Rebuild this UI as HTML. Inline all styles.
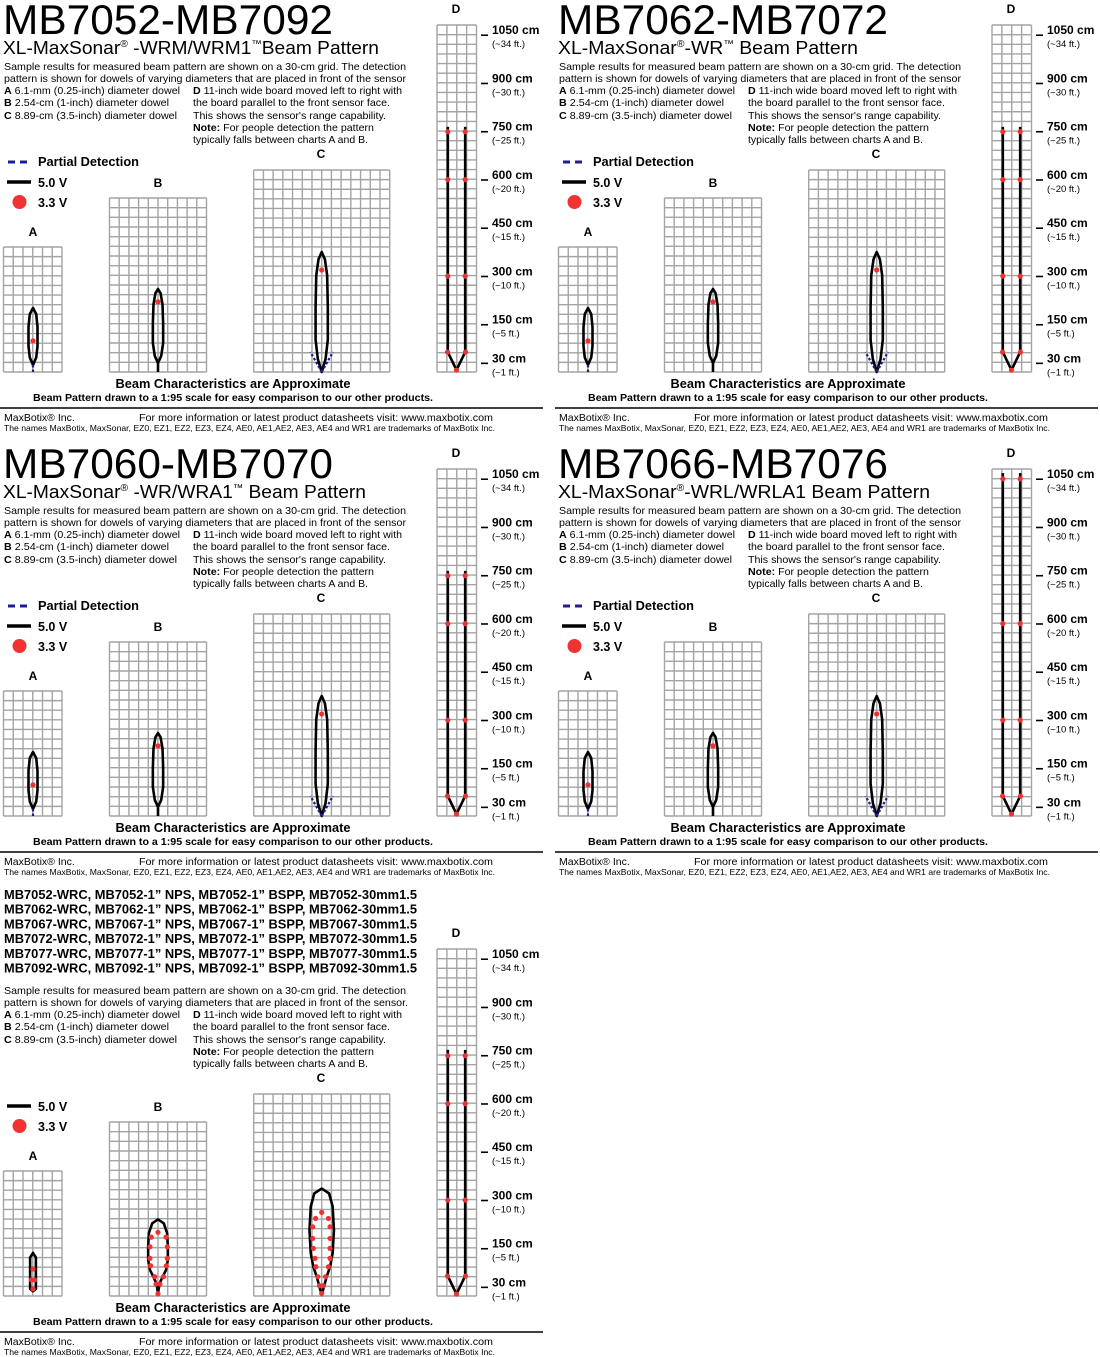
<!DOCTYPE html>
<html><head><meta charset="utf-8">
<style>
html,body{margin:0;padding:0;background:#fff;}
svg{display:block;font-family:"Liberation Sans",Arial,sans-serif;}
</style></head>
<body>
<svg id="sheet" xmlns="http://www.w3.org/2000/svg" width="1100" height="1357" viewBox="0 0 1100 1357"></svg>
<script>
// ---- data ----
const titles = ["MB7052-MB7092","MB7062-MB7072","MB7060-MB7070","MB7066-MB7076"];
const subtitles = [["XL-MaxSonar","®"," -WRM/WRM1","™","Beam Pattern"],["XL-MaxSonar","®","-WR","™"," Beam Pattern"],["XL-MaxSonar","®"," -WR/WRA1","™"," Beam Pattern"],["XL-MaxSonar","®","-WRL/WRLA1",""," Beam Pattern"]];
const subtitleWidths = [376,300,363,372];
const partNumbers = ["MB7052-WRC, MB7052-1” NPS, MB7052-1” BSPP, MB7052-30mm1.5","MB7062-WRC, MB7062-1” NPS, MB7062-1” BSPP, MB7062-30mm1.5","MB7067-WRC, MB7067-1” NPS, MB7067-1” BSPP, MB7067-30mm1.5","MB7072-WRC, MB7072-1” NPS, MB7072-1” BSPP, MB7072-30mm1.5","MB7077-WRC, MB7077-1” NPS, MB7077-1” BSPP, MB7077-30mm1.5","MB7092-WRC, MB7092-1” NPS, MB7092-1” BSPP, MB7092-30mm1.5"];
const rangeTicksCm = [1050,900,750,600,450,300,150,30];
const rangeTicksFt = ["(~34 ft.)","(~30 ft.)","(~25 ft.)","(~20 ft.)","(~15 ft.)","(~10 ft.)","(~5 ft.)","(~1 ft.)"];
// beam outlines: [distance cm, half-width cm] from sensor outward
const wrA = [[22,0],[45,10],[80,14],[140,14],[180,10],[199,0]];
const wrA_partial = [[0,0],[22,0]];
const wrA_dots = [[0,97]];
const wrB = [[28,0],[50,10],[90,16],[150,16],[210,14],[245,8],[258,0]];
const wrB_stem = [[0,0],[28,0]];
const wrB_dots = [[0,218]];
const wrC = [[0,0],[40,12],[100,19],[200,19],[300,17],[350,10],[373,0]];
const wrC_partialL = [[0,0],[62,-35]];
const wrC_partialR = [[0,0],[62,35]];
const wrC_dots = [[0,317]];
const wrD_top = [762,762,762,1066];
const wrD_hw = 27;
const wrD_dots = [[[-27,747],[27,747],[-27,598],[27,598],[-27,298],[27,298],[-28,62],[28,62],[0,6]],
 [[-27,747],[27,747],[-27,598],[27,598],[-27,298],[27,298],[-28,62],[28,62],[0,6]],
 [[-27,747],[27,747],[-27,598],[27,598],[-27,298],[27,298],[-28,62],[28,62],[0,6]],
 [[-27,1048],[27,1048],[-27,598],[27,598],[-27,298],[27,298],[-28,62],[28,62],[0,6]]];
const wrcA = [[15,0],[22,9],[120,9],[134,0]];
const wrcA_dots = [[0,84],[-5,50],[5,50],[0,22]];
const wrcB = [[9,0],[39,5],[60,14.5],[81,25],[112,30.6],[153,30.6],[195,28.5],[226,18],[238,0]];
const wrcB_dots = [[0,198],[-21,183],[25,183],[-25,153],[29,153],[-25,117],[29,117],[-23,94],[26,94],[-10,60],[17,60],[-6,37],[6,37],[0,7]];
const wrcC = [[3,0],[29,7],[60,15.5],[91,26],[133,34],[205,38],[278,34],[319,23],[334,0]];
const wrcC_dots = [[0,260],[-19,241],[21,241],[-28,215],[26,215],[-28,179],[26,179],[-26,148],[26,148],[-21,117],[26,117],[-18,91],[21,91],[-12,60],[12,60],[-7,32],[5,32],[0,8]];
const wrcD_dots = [[-27,747],[27,747],[-27,598],[27,598],[-27,298],[27,298],[-28,62],[28,62],[0,6]];

// ---- geometry ----
const NS="http://www.w3.org/2000/svg";
const S=0.3217, SENSOR=372;
const gridSpecs={A:{x:3.5,y:247,c:6,r:13,cx:33},B:{x:109.5,y:198,c:10,r:18,cx:158},C:{x:253.7,y:170,c:14,r:21,cx:321.7},D:{x:437,y:25,c:4,r:36,cx:456.5}};
const sheet=document.getElementById('sheet');
function yOf(d){return SENSOR-d*S;}
function xOf(cx,hw){return cx+hw*S;}
function mk(tag,parent,name,attrs){const e=document.createElementNS(NS,tag);


for(const k in attrs)e.setAttribute(k,attrs[k]);parent.appendChild(e);return e;}
function txt(p,name,x,y,s,size,weight,anchor,len){const t=mk('text',p,name,{x:x,y:y,'font-size':size,'font-weight':weight||'normal','text-anchor':anchor||'start',fill:'#000'});
if(len){t.setAttribute('textLength',len);t.setAttribute('lengthAdjust','spacingAndGlyphs');}
t.textContent=s;return t;}
function richTxt(p,name,x,y,parts,size,len){const t=mk('text',p,name,{x:x,y:y,'font-size':size,fill:'#000'});
if(len){t.setAttribute('textLength',len);t.setAttribute('lengthAdjust','spacingAndGlyphs');}
parts.forEach(pt=>{const ts=document.createElementNS(NS,'tspan');if(pt[1])ts.setAttribute('font-weight','bold');ts.textContent=pt[0];t.appendChild(ts);});return t;}
function grid(p,key){const g=gridSpecs[key];const gg=mk('g',p,'grid-'+key.toLowerCase(),{stroke:'#a4a4a4','stroke-width':1.4,fill:'none'});
const w=(key==='A'?58.5:key==='B'?97:key==='C'?136:39.5), h=SENSOR-g.y, cw=w/g.c, ch=h/g.r;
let d='';for(let i=0;i<=g.c;i++){const x=g.x+i*cw;d+='M'+x+' '+g.y+'V'+SENSOR;}
for(let j=0;j<=g.r;j++){const y=g.y+j*ch;d+='M'+g.x+' '+y+'H'+(g.x+w);}
mk('path',gg,'grid-lines-'+key.toLowerCase(),{d:d});}
function outline(p,name,cx,prof){let L=prof.map(q=>xOf(cx,-q[1])+','+yOf(q[0]));let R=prof.slice().reverse().map(q=>xOf(cx,q[1])+','+yOf(q[0]));
mk('polygon',p,name,{points:L.concat(R).join(' '),fill:'none',stroke:'#000','stroke-width':2.6,'stroke-linejoin':'round'});}
function line(p,name,cx,pts,dashed){mk('polyline',p,name,{points:pts.map(q=>xOf(cx,q[1])+','+yOf(q[0])).join(' '),fill:'none',stroke:dashed?'#1c1c96':'#000','stroke-width':dashed?2.2:2.6,'stroke-dasharray':dashed?'2.5,2':'none'});}
function dots(p,name,cx,arr){arr.forEach(q=>{mk('circle',p,name,{cx:xOf(cx,q[0]),cy:yOf(q[1]),r:2.6,fill:'#f03232'});});}
function dChart(p,top,dd){const cx=gridSpecs.D.cx;
mk('polyline',p,'range-beam-d',{points:[[top,-wrD_hw],[62,-wrD_hw],[6,0],[62,wrD_hw],[top,wrD_hw]].map(q=>xOf(cx,q[1])+','+yOf(q[0])).join(' '),fill:'none',stroke:'#000','stroke-width':2.6,'stroke-linejoin':'round'});
dots(p,'range-dot-d',cx,dd);}
function axisD(p){rangeTicksCm.forEach((v,i)=>{const y=yOf(v);
mk('line',p,'range-tick',{x1:481,x2:488,y1:y+1,y2:y+1,stroke:'#000','stroke-width':1.6});
txt(p,'range-label-cm',492,y,v+' cm',12,'bold');
txt(p,'range-label-ft',492,y+13,rangeTicksFt[i],9.5);});}
function common(p,partial){
richTxt(p,'description-line-1',4,70,[["Sample results for measured beam pattern are shown on a 30-cm grid. The detection"]],10.5,402);
richTxt(p,'description-line-2',4,82,[[partial?"pattern is shown for dowels of varying diameters that are placed in front of the sensor":"pattern is shown for dowels of varying diameters that are placed in front of the sensor."]],10.5,partial?402:404);
richTxt(p,'dowel-a-desc',4,94,[["A",1],[" 6.1-mm (0.25-inch) diameter dowel"]],10.5,176);
richTxt(p,'dowel-b-desc',4,106,[["B",1],[" 2.54-cm (1-inch) diameter dowel"]],10.5,165);
richTxt(p,'dowel-c-desc',4,119,[["C",1],[" 8.89-cm (3.5-inch) diameter dowel"]],10.5,173);
richTxt(p,'board-d-desc-1',193,94,[["D",1],[" 11-inch wide board moved left to right with"]],10.5,209);
richTxt(p,'board-d-desc-2',193,106,[["the board parallel to the front sensor face."]],10.5,197);
richTxt(p,'board-d-desc-3',193,119,[["This shows the sensor's range capability."]],10.5,193);
richTxt(p,'note-line-1',193,131,[["Note:",1],[" For people detection the pattern"]],10.5,181);
richTxt(p,'note-line-2',193,143,[["typically falls between charts A and B."]],10.5,175);
if(partial){mk('line',p,'legend-partial-swatch',{x1:8,x2:31,y1:162,y2:162,stroke:'#1c1c96','stroke-width':3,'stroke-dasharray':'7,5'});
txt(p,'legend-partial-label',38,166,'Partial Detection',12.5,'bold',null,101);}
mk('line',p,'legend-5v-swatch',{x1:7,x2:31,y1:182,y2:182,stroke:'#000','stroke-width':3.5});
txt(p,'legend-5v-label',38,187,'5.0 V',12.5,'bold');
mk('circle',p,'legend-3v-swatch',{cx:19.5,cy:202,r:7,fill:'#f03232'});
txt(p,'legend-3v-label',38,207,'3.3 V',12.5,'bold');
txt(p,'chart-a-label',33,236,'A',12,'bold','middle');
txt(p,'chart-b-label',158,187,'B',12,'bold','middle');
txt(p,'chart-c-label',321,158,'C',12,'bold','middle');
txt(p,'chart-d-label',456,13,'D',12,'bold','middle');
['A','B','C','D'].forEach(k=>grid(p,k));
axisD(p);
txt(p,'approximate-note',233,388,'Beam Characteristics are Approximate',12.5,'bold','middle',235);
txt(p,'scale-note',233,401,'Beam Pattern drawn to a 1:95 scale for easy comparison to our other products.',10,'bold','middle',400);
mk('line',p,'footer-rule',{x1:0,x2:543,y1:408,y2:408,stroke:'#000','stroke-width':1.6});
txt(p,'company-name',4,421,'MaxBotix® Inc.',10.5);
txt(p,'website-note',139,421,'For more information or latest product datasheets visit:  www.maxbotix.com',10.5,'normal',null,354);
txt(p,'trademark-note',4,431,'The names MaxBotix, MaxSonar, EZ0, EZ1, EZ2, EZ3, EZ4, AE0, AE1,AE2, AE3, AE4 and WR1 are trademarks of MaxBotix Inc.',8.3,'normal',null,491);}

const origins=[[0,0],[555,0],[0,444],[555,444]];
origins.forEach((o,i)=>{
const p=mk('g',sheet,'panel-'+titles[i].toLowerCase(),{transform:'translate('+o[0]+','+o[1]+')'});
txt(p,'panel-title',3,34,titles[i],42,'normal',null,330);
const st=mk('text',p,'panel-subtitle',{x:3,y:54,'font-size':18.5,fill:'#000',textLength:subtitleWidths[i],lengthAdjust:'spacingAndGlyphs'});
let raised=false;
subtitles[i].forEach((s,k)=>{if(!s)return;const ts=document.createElementNS(NS,'tspan');
if(k===1||k===3){ts.setAttribute('font-size','10');ts.setAttribute('dy','-7');raised=true;}
else if(raised){ts.setAttribute('dy','7');raised=false;}
ts.textContent=s;st.appendChild(ts);});
common(p,true);
outline(p,'beam-a-outline',gridSpecs.A.cx,wrA);line(p,'beam-a-partial',gridSpecs.A.cx,wrA_partial,true);dots(p,'beam-a-dot',gridSpecs.A.cx,wrA_dots);
outline(p,'beam-b-outline',gridSpecs.B.cx,wrB);line(p,'beam-b-stem',gridSpecs.B.cx,wrB_stem,false);dots(p,'beam-b-dot',gridSpecs.B.cx,wrB_dots);
outline(p,'beam-c-outline',gridSpecs.C.cx,wrC);line(p,'beam-c-partial-left',gridSpecs.C.cx,wrC_partialL,true);line(p,'beam-c-partial-right',gridSpecs.C.cx,wrC_partialR,true);dots(p,'beam-c-dot',gridSpecs.C.cx,wrC_dots);
dChart(p,wrD_top[i],wrD_dots[i]);
});
// panel 5
const p5=mk('g',sheet,'panel-wrc-variants',{transform:'translate(0,924)'});
partNumbers.forEach((s,i)=>{txt(p5,'part-number-line',4,-25+i*14.7,s,12.5,'bold',null,413);});
common(p5,false);
outline(p5,'beam-a-outline',gridSpecs.A.cx,wrcA);dots(p5,'beam-a-dot',gridSpecs.A.cx,wrcA_dots);
outline(p5,'beam-b-outline',gridSpecs.B.cx,wrcB);dots(p5,'beam-b-dot',gridSpecs.B.cx,wrcB_dots);
outline(p5,'beam-c-outline',gridSpecs.C.cx,wrcC);dots(p5,'beam-c-dot',gridSpecs.C.cx,wrcC_dots);
dChart(p5,765,wrcD_dots);
</script>
</body></html>
